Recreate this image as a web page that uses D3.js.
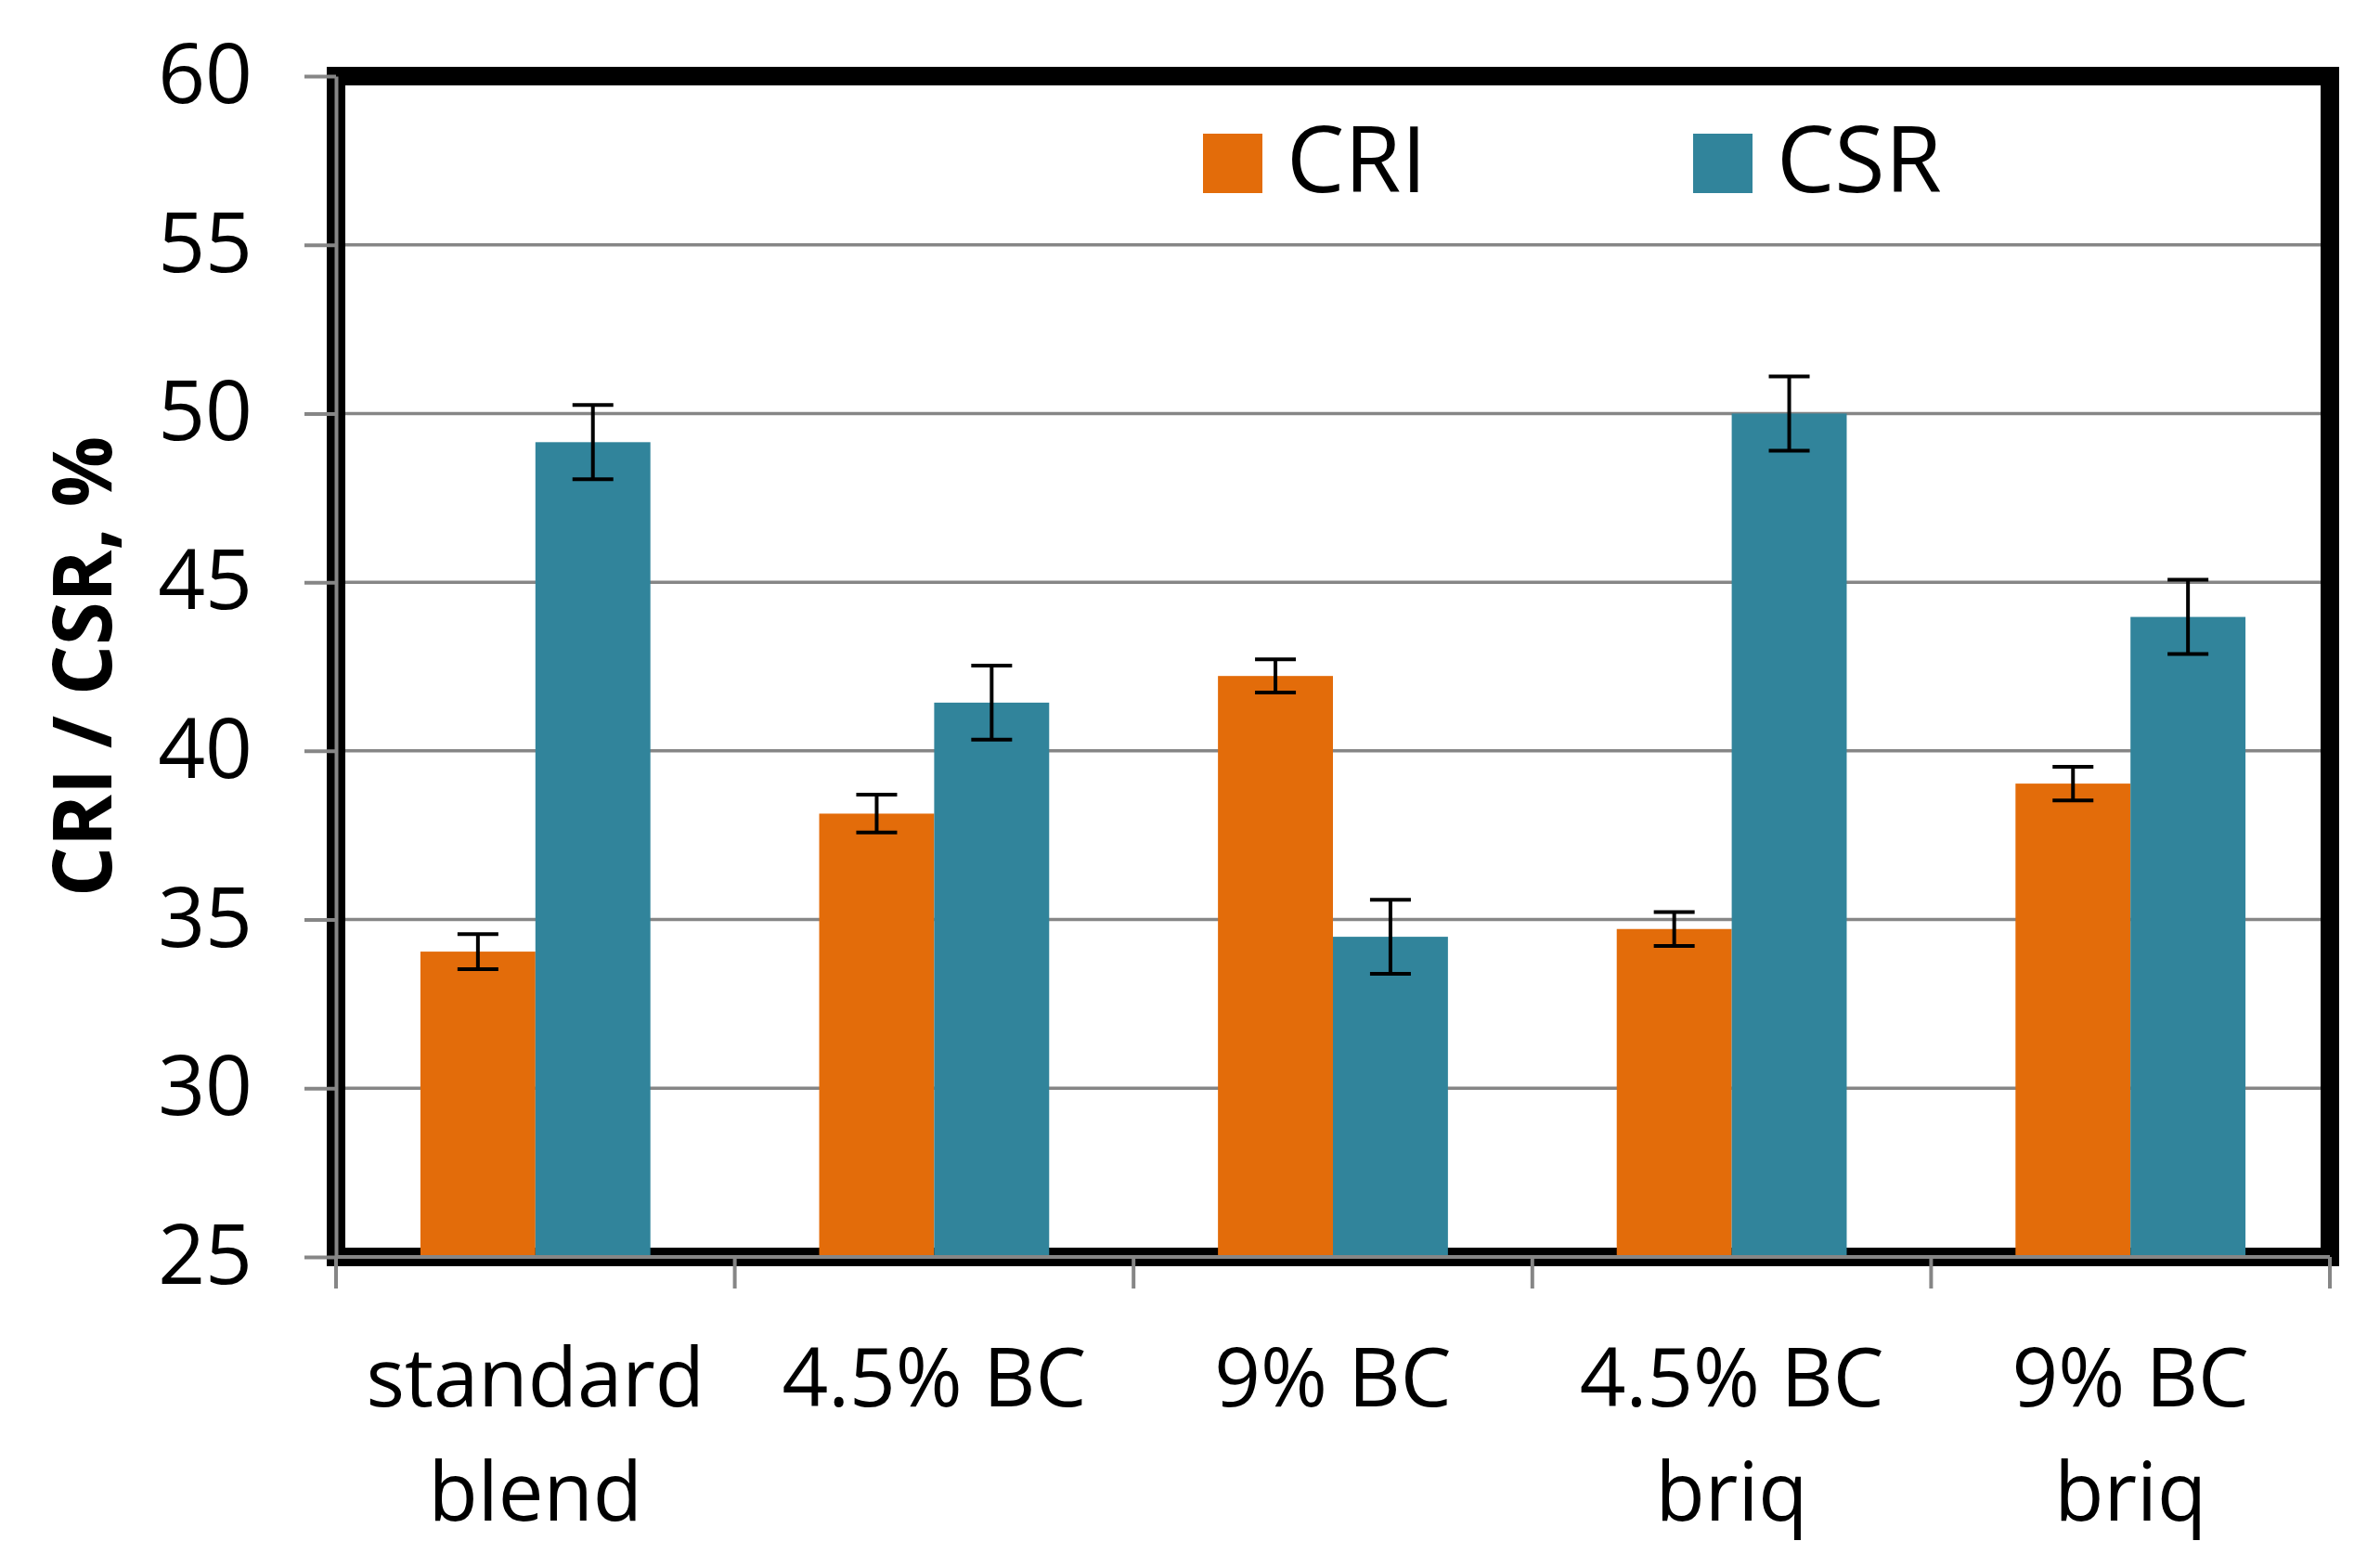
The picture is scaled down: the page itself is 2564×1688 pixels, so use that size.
<!DOCTYPE html>
<html>
<head>
<meta charset="utf-8">
<script src="https://cdn.jsdelivr.net/npm/d3@7"></script>
<style>
  html, body { margin: 0; padding: 0; background: #ffffff; }
  svg { display: block; }
  text { font-family: "Open Sans", "DejaVu Sans", sans-serif; fill: #000; }
</style>
</head>
<body>
<svg id="chart" width="2564" height="1688"></svg>
<script>
// ---- data ----
const categories = ["standard blend", "4.5% BC", "9% BC", "4.5% BC briq", "9% BC briq"];
const categoryLines = [["standard", "blend"], ["4.5% BC"], ["9% BC"], ["4.5% BC", "briq"], ["9% BC", "briq"]];
const series = ["CRI", "CSR"];
const criValues = [34.05, 38.14, 42.22, 34.72, 39.03];
const criErrors = [0.52, 0.56, 0.49, 0.5, 0.5];
const csrValues = [49.15, 41.43, 34.49, 50.0, 43.97];
const csrErrors = [1.1, 1.1, 1.1, 1.1, 1.1];
const yTicks = [25, 30, 35, 40, 45, 50, 55, 60];
const yTitle = "CRI / CSR, %";

(function () {
// ---- layout ----
const plotL = 362, plotR = 2510, plotT = 82, plotB = 1354;
const colors = { CRI: "#E36C0A", CSR: "#31849B" };
const gridColor = "#868686";

const svg = d3.select("#chart");

const y = d3.scaleLinear().domain([25, 60]).range([plotB, plotT]);
const x0 = d3.scaleBand().domain(categories).range([plotL, plotR]).paddingInner(0).paddingOuter(0);
const x1 = d3.scaleBand().domain(series).range([0, x0.bandwidth()]).paddingInner(0).paddingOuter(0.734);

const rows = categories.map((c, i) => ({
  cat: c,
  lines: categoryLines[i],
  vals: [
    { s: "CRI", v: criValues[i], e: criErrors[i] },
    { s: "CSR", v: csrValues[i], e: csrErrors[i] }
  ]
}));

// gridlines
svg.append("g").selectAll("line")
  .data(yTicks.filter(t => t > 25 && t < 60))
  .join("line")
  .attr("x1", plotL).attr("x2", plotR)
  .attr("y1", d => y(d)).attr("y2", d => y(d))
  .attr("stroke", gridColor).attr("stroke-width", 3.5);

// thick frame
svg.append("rect")
  .attr("x", plotL).attr("y", plotT)
  .attr("width", plotR - plotL).attr("height", plotB - plotT)
  .attr("fill", "none").attr("stroke", "#000").attr("stroke-width", 20);

// bars
const groups = svg.append("g").selectAll("g")
  .data(rows).join("g")
  .attr("transform", d => `translate(${x0(d.cat)},0)`);

groups.selectAll("rect")
  .data(d => d.vals).join("rect")
  .attr("x", d => x1(d.s))
  .attr("width", x1.bandwidth())
  .attr("y", d => y(d.v))
  .attr("height", d => y(25) - y(d.v))
  .attr("fill", d => colors[d.s]);

// y axis
const yAxis = svg.append("g")
  .attr("transform", `translate(${plotL},0)`)
  .call(d3.axisLeft(y).tickValues(yTicks).tickSize(34).tickSizeOuter(0).tickPadding(56));
yAxis.select(".domain").attr("stroke", gridColor).attr("stroke-width", 4);
yAxis.selectAll(".tick line").attr("stroke", gridColor).attr("stroke-width", 4);
yAxis.selectAll(".tick text")
  .attr("font-size", 89)
  .attr("font-family", "'Open Sans', sans-serif")
  .attr("fill", "#000");

// x axis line and ticks at category boundaries
const xAxis = svg.append("g");
xAxis.append("line")
  .attr("x1", plotL).attr("x2", plotR)
  .attr("y1", plotB).attr("y2", plotB)
  .attr("stroke", gridColor).attr("stroke-width", 4);
const bounds = categories.map(c => x0(c)).concat([x0.range()[1]]);
xAxis.selectAll("line.tick").data(bounds).join("line")
  .attr("class", "tick")
  .attr("x1", d => d).attr("x2", d => d)
  .attr("y1", plotB).attr("y2", plotB + 34)
  .attr("stroke", gridColor).attr("stroke-width", 4);

// x labels
const labels = svg.append("g").selectAll("text")
  .data(rows).join("text")
  .attr("text-anchor", "middle")
  .attr("font-size", 87);
labels.selectAll("tspan")
  .data(d => d.lines.map((l, j) => ({ l, j, cx: x0(d.cat) + x0.bandwidth() / 2 })))
  .join("tspan")
  .attr("x", d => d.cx)
  .attr("y", d => 1515 + d.j * 123)
  .text(d => d.l);

// error bars
const capW = 44;
const eb = groups.selectAll("g.err")
  .data(d => d.vals).join("g").attr("class", "err");
const cx = d => x1(d.s) + x1.bandwidth() / 2;
eb.append("line")
  .attr("x1", cx).attr("x2", cx)
  .attr("y1", d => y(d.v + d.e)).attr("y2", d => y(d.v - d.e))
  .attr("stroke", "#000").attr("stroke-width", 4);
eb.append("line")
  .attr("x1", d => cx(d) - capW / 2).attr("x2", d => cx(d) + capW / 2)
  .attr("y1", d => y(d.v + d.e)).attr("y2", d => y(d.v + d.e))
  .attr("stroke", "#000").attr("stroke-width", 4);
eb.append("line")
  .attr("x1", d => cx(d) - capW / 2).attr("x2", d => cx(d) + capW / 2)
  .attr("y1", d => y(d.v - d.e)).attr("y2", d => y(d.v - d.e))
  .attr("stroke", "#000").attr("stroke-width", 4);

// y title
svg.append("text")
  .attr("transform", "translate(120,718) rotate(-90)")
  .attr("text-anchor", "middle")
  .attr("font-size", 88)
  .attr("font-weight", "bold")
  .attr("textLength", 496)
  .attr("lengthAdjust", "spacingAndGlyphs")
  .text(yTitle);

// legend
const legX = d3.scaleOrdinal().domain(series).range([1296, 1824]);
const leg = svg.append("g").selectAll("g")
  .data(series).join("g")
  .attr("transform", d => `translate(${legX(d)},144)`);
leg.append("rect")
  .attr("width", 64).attr("height", 64)
  .attr("fill", d => colors[d]);
leg.append("text")
  .attr("x", 90).attr("y", 63)
  .attr("font-size", 99)
  .text(d => d);
})();
</script>
</body>
</html>
